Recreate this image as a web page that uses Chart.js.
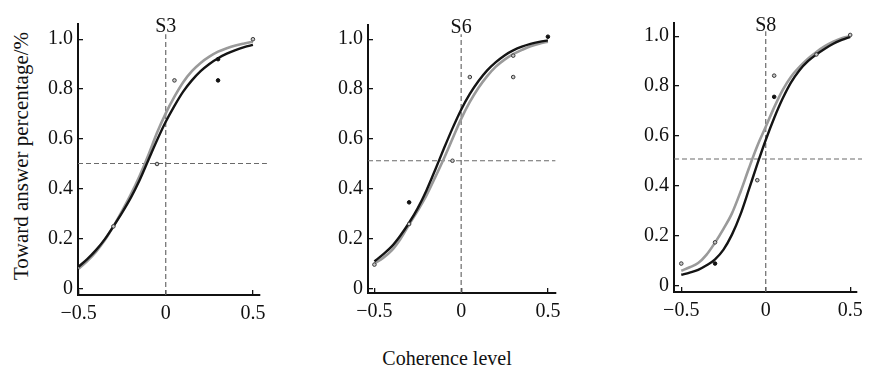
<!DOCTYPE html>
<html>
<head>
<meta charset="utf-8">
<script src="https://cdn.jsdelivr.net/npm/chart.js@4.4.0/dist/chart.umd.min.js"></script>
<style>
  html, body { margin: 0; padding: 0; background: #fff; overflow: hidden; }
  body { width: 872px; height: 367px; position: relative; font-family: "Liberation Serif", "DejaVu Serif", serif; color: #111; }
  .panel { position: absolute; top: 0; }
  .ytitle { position: absolute; left: 21px; top: 156px; transform: translate(-50%, -50%) rotate(-90deg); white-space: nowrap; font-size: 21px; }
  .xtitle { position: absolute; left: 447px; top: 358px; transform: translate(-50%, -50%); white-space: nowrap; font-size: 20px; }
</style>
</head>
<body>
<div class="ytitle">Toward answer percentage/%</div>
<div class="xtitle">Coherence level</div>
<div class="panel" id="p0"><canvas id="c0"></canvas></div>
<div class="panel" id="p1"><canvas id="c1"></canvas></div>
<div class="panel" id="p2"><canvas id="c2"></canvas></div>
<script>
// subjects and coherence levels
const subjects = ['S3', 'S6', 'S8'];
const fitX = [-0.5, -0.45, -0.4, -0.35, -0.3, -0.25, -0.2, -0.15, -0.1, -0.05, 0,
              0.05, 0.1, 0.15, 0.2, 0.25, 0.3, 0.35, 0.4, 0.45, 0.5];

// fitted psychometric curves
const s3Black = [0.088, 0.119, 0.155, 0.198, 0.250, 0.305, 0.365, 0.435, 0.515, 0.595, 0.669,
                 0.733, 0.790, 0.835, 0.872, 0.901, 0.924, 0.942, 0.956, 0.968, 0.977];
const s3Gray  = [0.080, 0.111, 0.148, 0.194, 0.250, 0.312, 0.378, 0.452, 0.535, 0.625, 0.703,
                 0.770, 0.828, 0.872, 0.905, 0.930, 0.950, 0.964, 0.975, 0.983, 0.990];
const s6Black = [0.108, 0.136, 0.168, 0.212, 0.263, 0.322, 0.393, 0.475, 0.560, 0.642, 0.717,
                 0.780, 0.832, 0.875, 0.908, 0.935, 0.955, 0.970, 0.981, 0.989, 0.995];
const s6Gray  = [0.099, 0.122, 0.152, 0.198, 0.256, 0.312, 0.373, 0.445, 0.520, 0.600, 0.680,
                 0.748, 0.805, 0.852, 0.890, 0.918, 0.940, 0.957, 0.972, 0.982, 0.990];
const s8Black = [0.044, 0.053, 0.064, 0.082, 0.106, 0.145, 0.205, 0.285, 0.385, 0.487, 0.584,
                 0.672, 0.750, 0.815, 0.864, 0.900, 0.927, 0.950, 0.970, 0.985, 0.997];
const s8Gray  = [0.060, 0.074, 0.091, 0.125, 0.173, 0.228, 0.290, 0.375, 0.470, 0.560, 0.637,
                 0.715, 0.784, 0.838, 0.877, 0.910, 0.937, 0.960, 0.978, 0.992, 1.000];

// observed points (open = gray condition, dot = black condition)
const s3OpenX = [-0.3, -0.05, 0.05, 0.5];
const s3OpenY = [0.25, 0.50, 0.835, 1.0];
const s3DotX = [0.3, 0.3];
const s3DotY = [0.835, 0.92];
const s6OpenX = [-0.5, -0.3, -0.05, 0.05, 0.3, 0.3];
const s6OpenY = [0.095, 0.258, 0.512, 0.848, 0.848, 0.934];
const s6DotX = [-0.3, 0.5];
const s6DotY = [0.345, 1.01];
const s8OpenX = [-0.5, -0.3, -0.05, 0.05, 0.3, 0.5];
const s8OpenY = [0.089, 0.174, 0.423, 0.842, 0.927, 1.005];
const s8DotX = [-0.3, 0.05];
const s8DotY = [0.089, 0.757];

const chanceLevel = [0.502, 0.512, 0.508];

const xTickValues = [-0.5, 0, 0.5];
const xTickLabels = ['\u22120.5', '0', '0.5'];
const yTickValues = [0, 0.2, 0.4, 0.6, 0.8, 1.0];
const yTickLabels = ['0', '0.2', '0.4', '0.6', '0.8', '1.0'];

// axis limits per panel
const xRange = [[-0.503, 0.539], [-0.537, 0.543], [-0.543, 0.541]];
const yRange = [[-0.025, 1.061], [-0.019, 1.057], [-0.025, 1.053]];
const hLineEnd = [0.58, 0.543, 0.57];
const vLineTop = 1.02;

const blackCurves = [s3Black, s6Black, s8Black];
const grayCurves = [s3Gray, s6Gray, s8Gray];
const openX = [s3OpenX, s6OpenX, s8OpenX];
const openY = [s3OpenY, s6OpenY, s8OpenY];
const dotX = [s3DotX, s6DotX, s8DotX];
const dotY = [s3DotY, s6DotY, s8DotY];

// where each panel sits on the page
const layout = [
  { left: 18, width: 260, height: 335, padTop: 24, padRight: 15 },
  { left: 308, width: 265, height: 333, padTop: 25, padRight: 15 },
  { left: 614, width: 261, height: 332, padTop: 23, padRight: 8 }
];

const serif = '"Liberation Serif", "DejaVu Serif", serif';
Chart.defaults.font.family = serif;
Chart.defaults.font.size = 20;
Chart.defaults.color = '#111';

function pts(xs, ys) {
  return xs.map(function(x, i) { return { x: x, y: ys[i] }; });
}

const panelLabel = {
  id: 'panelLabel',
  afterDraw: function(chart, args, opts) {
    var ctx = chart.ctx;
    var xs = chart.scales.x;
    ctx.save();
    ctx.font = '20px ' + serif;
    ctx.fillStyle = '#111';
    ctx.textAlign = 'center';
    ctx.textBaseline = 'middle';
    ctx.fillText(opts.text, xs.getPixelForValue(0), chart.chartArea.top + 3);
    ctx.restore();
  }
};

for (var i = 0; i < 3; i++) {
  var box = document.getElementById('p' + i);
  var lay = layout[i];
  box.style.left = lay.left + 'px';
  box.style.width = lay.width + 'px';
  box.style.height = lay.height + 'px';

  var guide = { showLine: true, pointRadius: 0, borderColor: '#6a6a6a', borderWidth: 1.2, borderDash: [5, 3], order: 5 };

  new Chart(document.getElementById('c' + i), {
    type: 'scatter',
    data: {
      datasets: [
        Object.assign({ data: pts([xRange[i][0], hLineEnd[i]], [chanceLevel[i], chanceLevel[i]]), clip: false }, guide),
        Object.assign({ data: pts([0, 0], [yRange[i][0], vLineTop]) }, guide),
        {
          data: pts(fitX, grayCurves[i]), showLine: true, pointRadius: 0,
          borderColor: '#9a9a9a', borderWidth: 2.6, cubicInterpolationMode: 'monotone', order: 4
        },
        {
          data: pts(fitX, blackCurves[i]), showLine: true, pointRadius: 0,
          borderColor: '#141414', borderWidth: 2.4, cubicInterpolationMode: 'monotone', order: 3
        },
        {
          data: pts(openX[i], openY[i]), pointRadius: 1.8, pointBorderWidth: 1,
          pointBackgroundColor: '#c8c8c8', pointBorderColor: '#3a3a3a', order: 2
        },
        {
          data: pts(dotX[i], dotY[i]), pointRadius: 1.8,
          pointBackgroundColor: '#111', pointBorderColor: '#111', order: 1
        }
      ]
    },
    options: {
      responsive: true,
      maintainAspectRatio: false,
      animation: false,
      events: [],
      layout: { padding: { top: lay.padTop, right: lay.padRight, left: 0, bottom: 0 } },
      plugins: {
        legend: { display: false },
        tooltip: { enabled: false },
        panelLabel: { text: subjects[i] }
      },
      scales: {
        x: {
          type: 'linear',
          min: xRange[i][0],
          max: xRange[i][1],
          afterBuildTicks: function(s) { s.ticks = xTickValues.map(function(v) { return { value: v }; }); },
          afterFit: function(s) { s.height = 40; },
          ticks: {
            autoSkip: false, maxRotation: 0, padding: 12, color: '#111',
            callback: function(v, idx) { return xTickLabels[idx]; }
          },
          grid: { drawOnChartArea: false, tickLength: -5, color: '#111', lineWidth: 1.3 },
          border: { color: '#111', width: 2 }
        },
        y: {
          type: 'linear',
          min: yRange[i][0],
          max: yRange[i][1],
          afterBuildTicks: function(s) { s.ticks = yTickValues.map(function(v) { return { value: v }; }); },
          afterFit: function(s) { s.width = 60; },
          ticks: {
            autoSkip: false, padding: 10, color: '#111',
            callback: function(v, idx) { return yTickLabels[idx]; }
          },
          grid: { drawOnChartArea: false, tickLength: -5, color: '#111', lineWidth: 1.3 },
          border: { color: '#111', width: 2 }
        }
      }
    },
    plugins: [panelLabel]
  });
}
</script>
</body>
</html>
